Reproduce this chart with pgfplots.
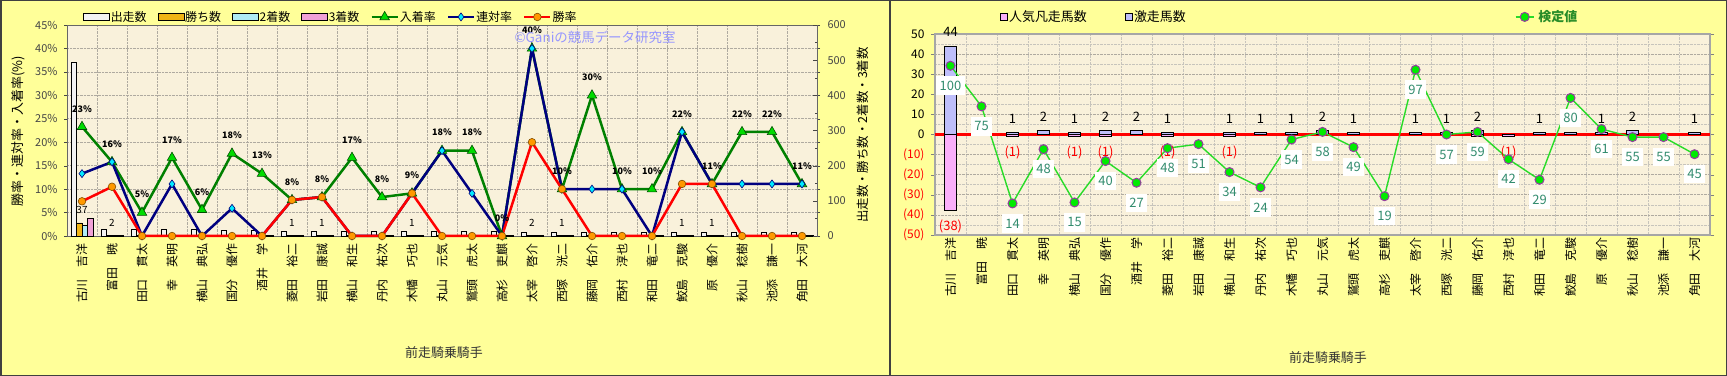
\documentclass[border=0pt]{standalone}
\usepackage{fontspec}
\setmainfont{Noto Sans CJK JP}
\usepackage{pgfplots}
\pgfplotsset{compat=1.18}

\definecolor{panelbg}{RGB}{255,255,153}
\definecolor{plotbg}{RGB}{249,241,219}
\definecolor{gridc}{RGB}{175,170,160}
\definecolor{ticktext}{RGB}{70,70,70}
\definecolor{rateG}{RGB}{0,128,0}
\definecolor{rateGf}{RGB}{0,220,0}
\definecolor{rateB}{RGB}{0,0,128}
\definecolor{rateBf}{RGB}{0,235,255}
\definecolor{rateR}{RGB}{255,0,0}
\definecolor{rateRf}{RGB}{255,153,0}
\definecolor{startsF}{RGB}{242,242,242}
\definecolor{winF}{RGB}{240,180,20}
\definecolor{secF}{RGB}{175,235,245}
\definecolor{thrF}{RGB}{240,160,215}
\definecolor{ninkiF}{RGB}{250,175,250}
\definecolor{gekiF}{RGB}{190,190,250}
\definecolor{kentei}{RGB}{40,220,40}
\definecolor{kenteiF}{RGB}{0,235,0}
\definecolor{kenteiEdge}{RGB}{150,60,160}
\definecolor{kenteiTxt}{RGB}{50,140,110}
\definecolor{legG}{RGB}{40,140,40}
\definecolor{wmark}{RGB}{150,150,255}
\definecolor{frame}{RGB}{64,64,64}

\newcommand{\fs}[1]{\fontsize{#1}{#1}\selectfont}

\pgfplotsset{
  jockeys/.style={xticklabels={古川　吉洋,富田　暁,田口　貫太,幸　英明,横山　典弘,国分　優作,酒井　学,菱田　裕二,岩田　康誠,横山　和生,丹内　祐次,木幡　巧也,丸山　元気,鷲頭　虎太,高杉　吏麒,太宰　啓介,西塚　洸二,藤岡　佑介,西村　淳也,和田　竜二,鮫島　克駿,原　優介,秋山　稔樹,池添　謙一,角田　大河}},
  barlegend/.style={legend image code/.code={\draw[##1] (0bp,-3.5bp) rectangle (26bp,3.5bp);}},
  linelegend/.style={legend image code/.code={\draw[mark repeat=2,mark phase=2,##1] plot coordinates {(0bp,0bp) (13bp,0bp) (26bp,0bp)};}},
  sqlegend/.style={legend image code/.code={\draw[##1] (0bp,-3.5bp) rectangle (7bp,3.5bp);}},
  kenlegend/.style={legend image code/.code={\draw[mark repeat=2,mark phase=2,##1] plot coordinates {(0bp,0bp) (9bp,0bp) (18bp,0bp)};}},
}

\begin{document}
\begin{tikzpicture}
\useasboundingbox (0bp,0bp) rectangle (1727bp,376bp);
\fill[panelbg] (0bp,0bp) rectangle (1727bp,376bp);

% ---------------- left chart ----------------
\begin{axis}[
  at={(67bp,140bp)}, anchor=south west, scale only axis,
  width=750bp, height=211bp,
  xmin=-0.5, xmax=24.5, ymin=0, ymax=45, clip=false,
  jockeys, xtick={0,...,24},
  xticklabel style={font=\fs{12}, yshift=-4bp, rotate=90, anchor=east, inner sep=0pt},
  minor xtick={0.5,1.5,...,23.5},
  xmajorgrids=false, xminorgrids=true, ymajorgrids=true,
  major grid style={gridc, densely dotted, line width=0.7bp},
  minor grid style={gridc, densely dotted, line width=0.7bp},
  xtick style={draw=none}, minor tick length=0pt,
  ytick={0,5,...,45},
  yticklabels={0\%,5\%,10\%,15\%,20\%,25\%,30\%,35\%,40\%,45\%},
  yticklabel style={font=\fs{11}, text=ticktext, xshift=-3bp},
  ytick style={draw=ticktext}, tick align=outside, major tick length=3bp,
  axis line style={draw=gray!80!black, line width=0.8bp},
  axis background/.style={fill=plotbg},
  legend columns=-1,
  legend style={at={(axis description cs:0.0213,1.038)}, anchor=west, draw=none, fill=none,
    font=\fs{12}, inner sep=0pt, nodes={inner sep=1bp},
    /tikz/every even column/.append style={column sep=10bp}},
  legend cell align=left,
]
\addplot[ybar, bar width=5.5bp, bar shift=-8.25bp, draw=black, line width=0.6bp,
  fill=startsF, barlegend]
coordinates {(0,37) (1,1.4) (2,1.4) (3,1.4) (4,1.4) (5,1.3) (6,1.2) (7,1.0) (8,1.0) (9,0.9) (10,0.9) (11,0.9) (12,0.9) (13,0.9) (14,0.9) (15,0.8) (16,0.8) (17,0.8) (18,0.8) (19,0.8) (20,0.8) (21,0.8) (22,0.8) (23,0.8) (24,0.8)};
\addlegendentry{出走数}
\addplot[ybar, bar width=5.5bp, bar shift=-2.75bp, draw=black, line width=0.6bp,
  fill=winF, barlegend,
  nodes near coords, point meta=explicit symbolic,
  every node near coord/.append style={font=\fs{10}, text=black, inner sep=1bp, anchor=center, yshift=12.5bp}]
coordinates {(0,2.8) [37] (1,0.15) [2] (2,0.08) [{}] (3,0.08) [{}] (4,0.08) [{}] (5,0.08) [{}] (6,0.08) [{}] (7,0.08) [1] (8,0.08) [1] (9,0.08) [{}] (10,0.08) [{}] (11,0.08) [1] (12,0.08) [{}] (13,0.08) [{}] (14,0.08) [{}] (15,0.15) [2] (16,0.08) [1] (17,0.08) [{}] (18,0.08) [{}] (19,0.08) [{}] (20,0.08) [1] (21,0.08) [1] (22,0.08) [{}] (23,0.08) [{}] (24,0.08) [{}]};
\addlegendentry{勝ち数}
\addplot[ybar, bar width=5.5bp, bar shift=2.75bp, draw=black, line width=0.6bp,
  fill=secF, barlegend]
coordinates {(0,2.2) (1,0.08) (2,0.08) (3,0.08) (4,0.08) (5,0.08) (6,0.08) (7,0.08) (8,0.08) (9,0.08) (10,0.08) (11,0.08) (12,0.08) (13,0.08) (14,0.08) (15,0.08) (16,0.08) (17,0.08) (18,0.08) (19,0.08) (20,0.08) (21,0.08) (22,0.08) (23,0.08) (24,0.08)};
\addlegendentry{2着数}
\addplot[ybar, bar width=5.5bp, bar shift=8.25bp, draw=black, line width=0.6bp,
  fill=thrF, barlegend]
coordinates {(0,3.7) (1,0.08) (2,0.08) (3,0.08) (4,0.08) (5,0.08) (6,0.08) (7,0.08) (8,0.08) (9,0.08) (10,0.08) (11,0.08) (12,0.08) (13,0.08) (14,0.08) (15,0.08) (16,0.08) (17,0.08) (18,0.08) (19,0.08) (20,0.08) (21,0.08) (22,0.08) (23,0.08) (24,0.08)};
\addlegendentry{3着数}
\addplot[draw=rateG, line width=2.5bp, mark=triangle*, mark size=5.5bp,
  mark options={fill=rateGf, draw=rateG!60!black, line width=0.6bp}, linelegend,
  nodes near coords, point meta=explicit symbolic,
  every node near coord/.append style={font=\fs{9}\bfseries, text=black, inner sep=1bp, anchor=center, yshift=18bp}]
coordinates {(0,23.3)[23\%] (1,15.8)[16\%] (2,5.0)[5\%] (3,16.7)[17\%] (4,5.6)[6\%] (5,17.6)[18\%] (6,13.3)[13\%] (7,7.7)[8\%] (8,8.3)[8\%] (9,16.7)[17\%] (10,8.3)[8\%] (11,9.1)[9\%] (12,18.2)[18\%] (13,18.2)[18\%] (14,0)[0\%] (15,40)[40\%] (16,10)[10\%] (17,30)[30\%] (18,10)[10\%] (19,10)[10\%] (20,22.2)[22\%] (21,11.1)[11\%] (22,22.2)[22\%] (23,22.2)[22\%] (24,11.1)[11\%]};
\addlegendentry{入着率}
\addplot[draw=rateB, line width=2.5bp, mark=diamond*, mark size=4bp,
  mark options={fill=rateBf, draw=rateB, line width=0.6bp}, linelegend]
coordinates {(0,13.3) (1,15.8) (2,0) (3,11.1) (4,0) (5,5.9) (6,0) (7,7.7) (8,8.3) (9,0) (10,0) (11,9.1) (12,18.2) (13,9.1) (14,0) (15,40) (16,10) (17,10) (18,10) (19,0) (20,22.2) (21,11.1) (22,11.1) (23,11.1) (24,11.1)};
\addlegendentry{連対率}
\addplot[draw=rateR, line width=2.5bp, mark=*, mark size=3.8bp,
  mark options={fill=rateRf, draw=rateRf!50!black, line width=0.6bp}, linelegend]
coordinates {(0,7.4) (1,10.5) (2,0) (3,0) (4,0) (5,0) (6,0) (7,7.7) (8,8.3) (9,0) (10,0) (11,9.1) (12,0) (13,0) (14,0) (15,20) (16,10) (17,0) (18,0) (19,0) (20,11.1) (21,11.1) (22,0) (23,0) (24,0)};
\addlegendentry{勝率}
\end{axis}

\begin{axis}[
  at={(67bp,140bp)}, anchor=south west, scale only axis,
  width=750bp, height=211bp,
  xmin=-0.5, xmax=24.5, ymin=0, ymax=600,
  axis x line=none, axis y line*=right,
  ytick={0,100,...,600}, yticklabels={0,100,200,300,400,500,600},
  minor ytick={50,150,...,550},
  tick align=inside, major tick length=4bp, minor tick length=2bp,
  yticklabel style={font=\fs{11}, text=ticktext, xshift=7bp},
  tick style={draw=ticktext},
  axis line style={draw=gray!80!black, line width=0.8bp},
]
\end{axis}

\node[font=\fs{13}, rotate=90] at (18bp,245bp) {勝率・連対率・入着率(\%)};
\node[font=\fs{12.5}, rotate=90] at (863bp,241bp) {出走数・勝ち数・2着数・3着数};
\node[font=\fs{13}, text=black!80] at (444bp,23bp) {前走騎乗騎手};
\node[font=\fs{13.5}, text=wmark] at (595bp,339bp) {©Ganiの競馬データ研究室};

% ---------------- right chart ----------------
\begin{axis}[
  at={(935bp,141bp)}, anchor=south west, scale only axis,
  width=775bp, height=201bp,
  xmin=-0.5, xmax=24.5, ymin=-50, ymax=50, clip=false,
  jockeys, xtick={0,...,24},
  xticklabel style={font=\fs{12}, yshift=2bp, rotate=90, anchor=east, inner sep=0pt},
  minor xtick={0.5,1.5,...,23.5},
  ytick={-50,-40,...,50},
  yticklabels={\textcolor{red}{(50)},\textcolor{red}{(40)},\textcolor{red}{(30)},\textcolor{red}{(20)},\textcolor{red}{(10)},0,10,20,30,40,50},
  minor ytick={-45,-35,...,45},
  xmajorgrids=false, xminorgrids=true, ymajorgrids=true, yminorgrids=true,
  major grid style={gridc, densely dotted, line width=0.7bp},
  minor grid style={gridc!70, densely dotted, line width=0.5bp},
  xtick style={draw=none}, minor tick length=0pt, major tick length=4bp, tick align=outside,
  yticklabel style={font=\fs{12}, text=black, xshift=-3bp},
  axis line style={draw=gray!70, line width=1.8bp},
  axis background/.style={fill=plotbg},
  legend columns=-1,
  legend style={at={(axis description cs:0.0839,1.085)}, anchor=west, draw=none, fill=none,
    font=\fs{13}, inner sep=0pt, nodes={inner sep=1bp}},
  legend cell align=left,
]
\draw[red, line width=2.5bp] (axis cs:-0.5,0) -- (axis cs:24.5,0);
\addplot[ybar, bar width=12bp, bar shift=0pt, draw=black, line width=0.9bp,
  fill=ninkiF, sqlegend,
  nodes near coords, point meta=explicit symbolic,
  every node near coord/.append style={font=\fs{13}, text=red, inner sep=1bp, anchor=center, yshift=-16bp}]
coordinates {(0,-38)[(38)] (2,-1)[(1)] (4,-1)[(1)] (5,-1)[(1)] (7,-1)[(1)] (9,-1)[(1)] (17,-1)[{}] (18,-1)[(1)]};
\addlegendentry{\makebox[115bp][l]{人気凡走馬数}}
\addplot[ybar, bar width=12bp, bar shift=0pt, draw=black, line width=0.9bp,
  fill=gekiF, sqlegend,
  nodes near coords, point meta=explicit symbolic,
  every node near coord/.append style={font=\fs{13}, text=black, inner sep=1bp, anchor=center, yshift=14bp}]
coordinates {(0,44)[44] (2,1)[1] (3,2)[2] (4,1)[1] (5,2)[2] (6,2)[2] (7,1)[1] (9,1)[1] (10,1)[1] (11,1)[1] (12,2)[2] (13,1)[1] (15,1)[1] (16,1)[1] (17,2)[2] (19,1)[1] (20,1)[{}] (21,1)[1] (22,2)[2] (24,1)[1]};
\addlegendentry{\makebox[380bp][l]{激走馬数}}
\addplot[draw=kentei, line width=1.4bp, mark=*, mark size=4.5bp,
  mark options={fill=kenteiF, draw=kenteiEdge, line width=1bp}, kenlegend,
  nodes near coords, point meta=explicit symbolic,
  every node near coord/.append style={font=\fs{13}, text=kenteiTxt, fill=white, inner xsep=3.5bp, inner ysep=4.5bp, anchor=center, yshift=-20bp}]
coordinates {(0,34.2)[100] (1,14)[75] (2,-34.3)[14] (3,-7.3)[48] (4,-33.8)[15] (5,-13.2)[40] (6,-24)[27] (7,-6.8)[48] (8,-4.8)[51] (9,-18.7)[34] (10,-26.3)[24] (11,-2.5)[54] (12,1.3)[58] (13,-6.3)[49] (14,-30.7)[19] (15,32.2)[97] (16,0)[57] (17,1.3)[59] (18,-12.3)[42] (19,-22.5)[29] (20,18.2)[80] (21,2.7)[61] (22,-1.3)[55] (23,-1.3)[55] (24,-9.8)[45]};
\addlegendentry{\hspace*{3bp}\textcolor{legG}{\bfseries 検定値}}
\end{axis}

\node[font=\fs{13}, text=black!80] at (1328bp,18bp) {前走騎乗騎手};

\draw[frame, line width=1.5bp] (0.75bp,0.75bp) rectangle (1726.25bp,375.25bp);
\draw[frame, line width=2.5bp] (890bp,0bp) -- (890bp,376bp);
\end{tikzpicture}
\end{document}
